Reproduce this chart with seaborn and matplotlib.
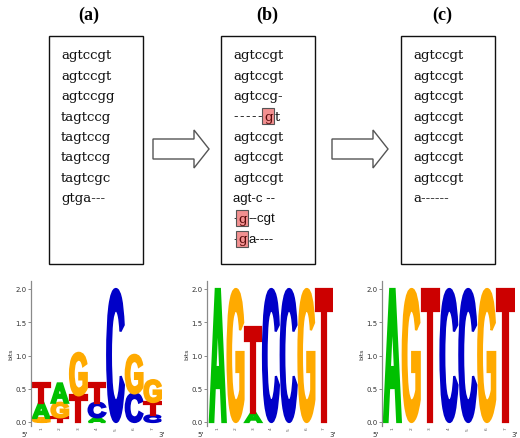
import matplotlib
matplotlib.use('Agg')
import matplotlib.pyplot as plt
import matplotlib.transforms as mtransforms
import seaborn as sns
from matplotlib.font_manager import FontProperties
from matplotlib.patches import PathPatch, Polygon, Rectangle
from matplotlib.textpath import TextPath

# alignments shown in the three boxes
seqs_a = ['agtccgt', 'agtccgt', 'agtccgg', 'tagtccg', 'tagtccg', 'tagtccg', 'tagtcgc', 'gtga---']
seqs_b = ['agtccgt', 'agtccgt', 'agtccg-', '-----gt', 'agtccgt', 'agtccgt', 'agtccgt',
          'agt-c --', '-g--cgt', '-ga----']
highlight_b = {3: 5, 8: 1, 9: 1}  # row -> column of the boxed g
sans_rows_b = [7]
seqs_c = ['agtccgt'] * 7 + ['a------']
panel_titles = ['(a)', '(b)', '(c)']

# sequence logo stacks, bottom to top: (letter, bits)
logo_a = [
    [('G', 0.06), ('A', 0.23), ('T', 0.29)],
    [('T', 0.07), ('G', 0.22), ('A', 0.29)],
    [('T', 0.40), ('G', 0.64)],
    [('A', 0.07), ('C', 0.22), ('T', 0.29)],
    [('C', 2.0)],
    [('C', 0.43), ('G', 0.58)],
    [('C', 0.10), ('T', 0.20), ('G', 0.33)],
]
logo_b = [
    [('A', 2.0)],
    [('G', 2.0)],
    [('A', 0.14), ('T', 1.29)],
    [('C', 2.0)],
    [('C', 2.0)],
    [('G', 2.0)],
    [('T', 2.0)],
]
logo_c = [[('A', 2.0)], [('G', 2.0)], [('T', 2.0)], [('C', 2.0)],
          [('C', 2.0)], [('G', 2.0)], [('T', 2.0)]]
positions = [1, 2, 3, 4, 5, 6, 7]

letter_colors = {'A': '#00c000', 'C': '#0000c8', 'G': '#ffaa00', 'T': '#cc0000'}

sns.set_theme(style='white')
W, H = 520, 439
fig = plt.figure(figsize=(5.2, 4.39), dpi=100)

# overlay axes in pixel coordinates for the alignment boxes
ax0 = fig.add_axes([0, 0, 1, 1])
ax0.set_xlim(0, W)
ax0.set_ylim(H, 0)
ax0.axis('off')

serif = 'DejaVu Serif'
box_left = [49, 221, 401]
title_x = [89, 267, 442]
for left, tx, title in zip(box_left, title_x, panel_titles):
    ax0.add_patch(Rectangle((left, 37), 94, 228, fill=False, ec='#111111', lw=1.0))
    ax0.text(tx, 15, title, ha='center', va='center', fontsize=13,
             fontweight='bold', family='Liberation Serif', color='black')

# block arrows
for x0 in [153, 332]:
    pts = [(x0, 140), (x0 + 41, 140), (x0 + 41, 131), (x0 + 56, 150),
           (x0 + 41, 169), (x0 + 41, 160), (x0, 160)]
    ax0.add_patch(Polygon(pts, closed=True, fc='white', ec='#555555', lw=1.0))


def line_y(i):
    return 56 + 20.4 * i


TXT = dict(ha='left', va='center', fontsize=9.5, color='#111111')


def write_plain(x, seqs):
    for i, s in enumerate(seqs):
        ax0.text(x, line_y(i), s, family=serif, **TXT)


write_plain(61, seqs_a)
write_plain(413, seqs_c)

# x position of the boxed g in each highlighted row
highlight_x = {3: 264, 8: 238, 9: 238}
for i, s in enumerate(seqs_b):
    fam = 'Liberation Sans' if i in sans_rows_b else serif
    if i not in highlight_b:
        ax0.text(233, line_y(i), s, family=fam, **TXT)
        continue
    k = highlight_b[i]
    head, mid, tail = s[:k], s[k], s[k + 1:]
    if len(head) > 1:
        # spread the run of gaps up to the boxed letter
        step = (highlight_x[i] - 233) / len(head)
        for j, ch in enumerate(head):
            ax0.text(233 + j * step, line_y(i), ch, family='Liberation Sans', **TXT)
    else:
        ax0.text(233, line_y(i), head, family='Liberation Sans', **TXT)
    g = ax0.text(highlight_x[i], line_y(i), mid, family=serif,
                 **{**TXT, 'color': '#5a0a0a'},
                 bbox=dict(boxstyle='square,pad=0.12', fc='#f29090', ec='#555555', lw=0.8))
    ax0.annotate(tail, xy=(1, 0.5), xycoords=g,
                 family='Liberation Sans' if i in (8, 9) else serif,
                 **TXT, xytext=(1.5, 0), textcoords='offset points')

# sequence logos
FP = FontProperties(family='Liberation Sans', weight='bold')


def draw_letter(ax, letter, x, y0, h, w=0.9):
    tp = TextPath((0, 0), letter, size=1, prop=FP)
    bb = tp.get_extents()
    tr = (mtransforms.Affine2D()
          .translate(-bb.x0, -bb.y0)
          .scale(w / bb.width, h / bb.height)
          .translate(x - w / 2, y0))
    c = letter_colors[letter]
    ax.add_patch(PathPatch(tr.transform_path(tp), fc=c, ec=c, lw=1.6, joinstyle='miter'))


px_bit = 66.5
y_bot_px = 423 + 0.06 * px_bit
y_top_px = 290 - 0.12 * px_bit
logo_axes = [(31, 162, 0.45, logo_a), (207, 333, 0.39, logo_b), (382, 515, 0.45, logo_c)]
for left, right, xmin, stacks in logo_axes:
    ax = fig.add_axes([left / W, (H - y_bot_px) / H, (right - left) / W,
                       (y_bot_px - y_top_px) / H])
    ax.set_facecolor('none')
    ax.set_xlim(xmin, 7.5)
    ax.set_ylim(-0.06, 2.12)
    for pos, stack in zip(positions, stacks):
        base = 0.0
        for letter, h in stack:
            draw_letter(ax, letter, pos, base, h)
            base += h
    sns.despine(ax=ax, bottom=True)
    ax.spines['left'].set_color('#8a8a8a')
    ax.spines['left'].set_linewidth(0.9)
    ax.set_yticks([0, 0.5, 1.0, 1.5, 2.0])
    ax.set_yticklabels(['0.0', '0.5', '1.0', '1.5', '2.0'])
    ax.tick_params(axis='y', length=2.5, width=0.6, color='#777777', pad=0.8,
                   labelsize=5, labelcolor='#333333', left=True)
    ax.set_xticks(positions)
    ax.set_xticklabels([str(p) for p in positions], rotation=90)
    ax.tick_params(axis='x', length=0, pad=0.5, labelsize=3.2, labelcolor='#555555')
    ax.set_ylabel('bits', fontsize=4.5, labelpad=1.5, color='#333333')
    ax.text(-0.05, -0.035, "5'", transform=ax.transAxes, fontsize=5, color='#333333',
            ha='center', va='top')
    ax.text(1.0, -0.035, "3'", transform=ax.transAxes, fontsize=5, color='#333333',
            ha='center', va='top')

fig.savefig('out.png', dpi=100)
